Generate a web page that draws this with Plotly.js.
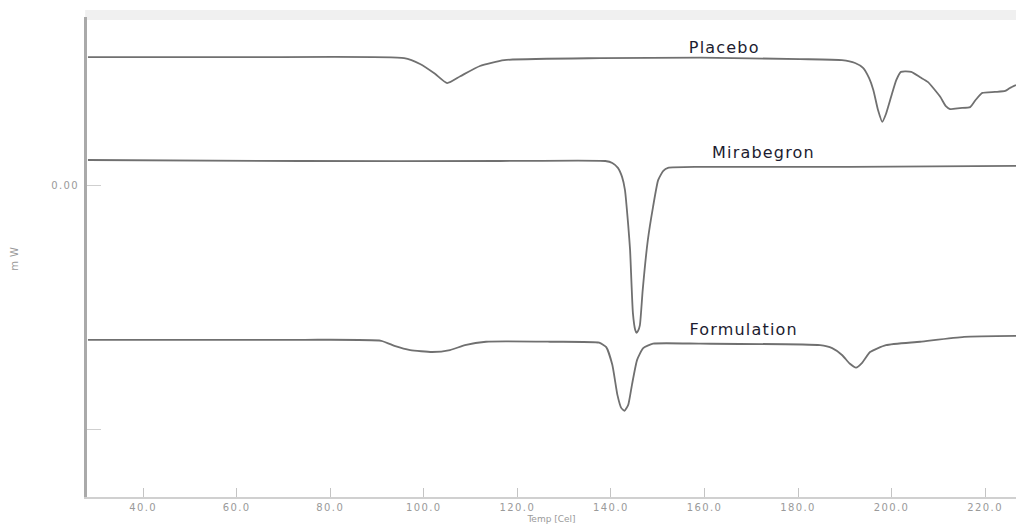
<!DOCTYPE html>
<html><head><meta charset="utf-8">
<script src="https://cdn.plot.ly/plotly-3.0.1.min.js"></script>
<style>
html,body{margin:0;padding:0;background:#fff}
#chart{width:1016px;height:524px}
#chart .annotation-text{letter-spacing:1.2px}
#chart .xtick text,#chart .ytick text{letter-spacing:1.4px}
#chart .ytitle{letter-spacing:4px}
</style>
</head><body><div id="chart"></div>
<script>
// Temperature (Cel) and heat flow (mW)
const placeboT = [28.2,62.9,95.8,99.2,102.4,105.0,107.8,112.0,117.2,137.7,159.1,180.4,189.4,192.2,193.9,195.2,196.1,197.1,198.0,198.8,199.9,201.0,202.0,204.2,206.1,207.8,210.4,211.6,212.5,214.6,216.8,218.0,219.4,222.1,224.3,225.3,226.6];
const placeboMW = [2.61,2.61,2.59,2.47,2.27,2.08,2.22,2.43,2.55,2.59,2.60,2.57,2.55,2.49,2.39,2.18,1.94,1.53,1.29,1.45,1.80,2.14,2.31,2.31,2.20,2.10,1.80,1.61,1.55,1.57,1.59,1.74,1.88,1.90,1.92,1.98,2.04];

const mirabegronT = [28.2,73.6,116.3,138.8,140.3,141.5,142.4,143.0,143.7,144.1,144.7,145.2,145.5,145.8,146.2,146.8,147.9,149.0,150.1,151.2,152.2,159.1,191.1,226.6];
const mirabegronMW = [0.51,0.49,0.49,0.49,0.45,0.35,0.16,-0.10,-0.82,-1.33,-2.61,-2.96,-3.02,-2.98,-2.86,-2.14,-1.12,-0.45,0.10,0.29,0.35,0.37,0.37,0.39];

const formulationT = [28.2,73.6,90.9,93.9,97.1,101.8,105.6,108.8,113.3,127.0,137.5,139.0,140.3,141.4,142.2,142.9,143.7,144.5,145.6,146.9,149.0,159.1,184.7,187.3,189.4,191.1,192.4,193.7,195.4,198.8,206.1,215.5,226.6];
const formulationMW = [-3.16,-3.16,-3.18,-3.29,-3.37,-3.41,-3.37,-3.27,-3.20,-3.20,-3.22,-3.31,-3.67,-4.29,-4.55,-4.61,-4.49,-4.08,-3.57,-3.33,-3.24,-3.24,-3.27,-3.33,-3.47,-3.65,-3.73,-3.63,-3.41,-3.27,-3.20,-3.10,-3.08];

const xTicks = [40,60,80,100,120,140,160,180,200,220];
const xTickText = ["40.0","60.0","80.0","100.0","120.0","140.0","160.0","180.0","200.0","220.0"];
const yTicks = [0,-5];
const yTickText = ["0.00",""];

const labels = [
  {text:"Placebo", x:164.1, y:2.80},
  {text:"Mirabegron", x:172.6, y:0.66},
  {text:"Formulation", x:168.3, y:-2.95}
];

const lineStyle = {color:"#707070", width:1.8, shape:"spline", smoothing:0.5};
const traces = [
  {x:placeboT, y:placeboMW, name:"Placebo"},
  {x:mirabegronT, y:mirabegronMW, name:"Mirabegron"},
  {x:formulationT, y:formulationMW, name:"Formulation"}
].map(t => Object.assign(t, {type:"scatter", mode:"lines", line:lineStyle, hoverinfo:"skip"}));

const layout = {
  width:1016, height:524,
  margin:{l:87, r:0, t:17, b:27},
  paper_bgcolor:"#fff", plot_bgcolor:"#fff",
  showlegend:false,
  xaxis:{
    range:[28.0,226.6], tickvals:xTicks, ticktext:xTickText,
    ticks:"inside", ticklen:9, tickcolor:"#c4c4c4", tickwidth:1,
    showgrid:false, zeroline:false, showline:true, linecolor:"#d0d0d0", linewidth:2,
    tickfont:{family:"DejaVu Sans", size:10, color:"#9a9a9a"},
    title:{text:"Temp [Cel]", font:{family:"DejaVu Sans", size:9, color:"#9a9a9a"}, standoff:4}
  },
  yaxis:{
    range:[-6.37,3.43], tickvals:yTicks, ticktext:yTickText,
    ticks:"inside", ticklen:14, tickcolor:"#cfcfcf", tickwidth:1,
    ticklabelstandoff:3,
    showgrid:false, zeroline:false, showline:true, linecolor:"#aaa", linewidth:3,
    tickfont:{family:"DejaVu Sans", size:10, color:"#9a9a9a"},
    title:{text:"mW", font:{family:"DejaVu Sans", size:10, color:"#999"}, standoff:37}
  },
  shapes:[{type:"rect", xref:"paper", yref:"paper", x0:-0.002, x1:1, y0:0.99375, y1:1.0146, fillcolor:"#f0f0f0", line:{width:0}, layer:"below"}],
  annotations: labels.map(l => ({text:l.text, x:l.x, y:l.y, xref:"x", yref:"y", showarrow:false,
    font:{family:"DejaVu Sans", size:16, color:"#1c1c30"}}))
};

Plotly.newPlot("chart", traces, layout, {displayModeBar:false, staticPlot:true});
</script>
</body></html>
